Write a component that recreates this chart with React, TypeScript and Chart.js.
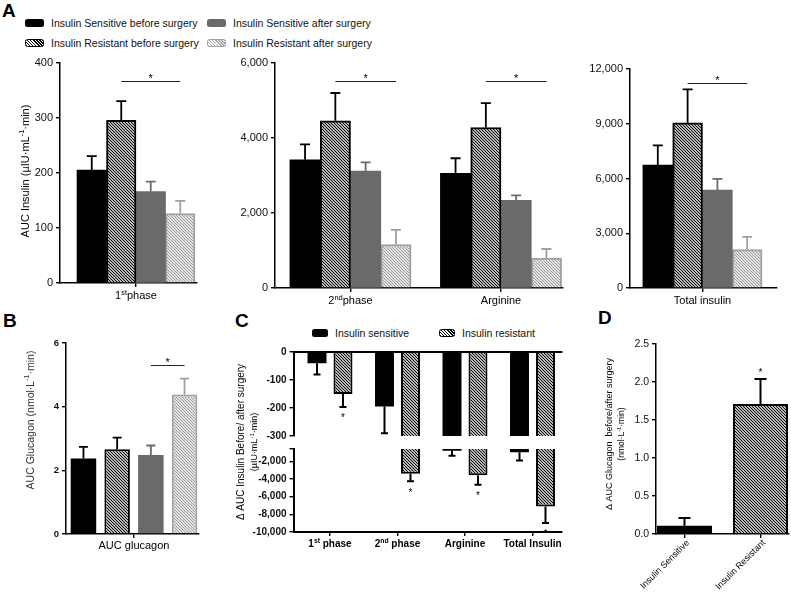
import React, { useEffect, useRef } from 'react';
import { Chart, registerables } from 'chart.js';

Chart.register(...registerables);

const FONT = '"Liberation Sans", Arial, Helvetica, sans-serif';
Chart.defaults.font.family = FONT;
Chart.defaults.color = '#000';

// ---------------- data ----------------
const GROUP_NAMES = [
  'Insulin Sensitive before surgery',
  'Insulin Resistant before surgery',
  'Insulin Sensitive after surgery',
  'Insulin Resistant after surgery',
];

// Panel A: AUC insulin
const INSULIN_PHASES = ['1^{st}phase', '2^{nd}phase', 'Arginine', 'Total insulin'];
const IS_BEFORE = [205, 3420, 3060, 6730];
const IR_BEFORE = [295, 4460, 4280, 9050];
const IS_AFTER = [166, 3120, 2340, 5360];
const IR_AFTER = [126, 1160, 800, 2100];
const IS_BEFORE_SEM = [25, 410, 400, 1080];
const IR_BEFORE_SEM = [35, 740, 650, 1830];
const IS_AFTER_SEM = [18, 230, 130, 620];
const IR_AFTER_SEM = [23, 390, 240, 700];
const INSULIN_SIG_Y = [367, 5520, 5520, 11230];
const A1_Y_TICKS = [0, 100, 200, 300, 400];
const A2_Y_TICKS = [0, 2000, 4000, 6000];
const A3_Y_TICKS = [0, 3000, 6000, 9000, 12000];

// Panel B: AUC glucagon (one value per group)
const GLUCAGON_LABEL = ['AUC glucagon'];
const GLUCAGON_MEAN = [2.37, 2.66, 2.48, 4.38];
const GLUCAGON_SEM = [0.37, 0.37, 0.3, 0.5];
const GLUCAGON_SIG_Y = 5.3;
const B_Y_TICKS = [0, 2, 4, 6];

// Panel C: delta AUC insulin (broken axis)
const DELTA_GROUPS = ['Insulin sensitive', 'Insulin resistant'];
const DELTA_LABELS = ['1^{st} phase', '2^{nd} phase', 'Arginine', 'Total Insulin'];
const DELTA_INS_IS = [-40, -195, -800, -980];
const DELTA_INS_IR = [-150, -3400, -3580, -7100];
const DELTA_INS_IS_SEM = [40, 95, 560, 910];
const DELTA_INS_IR_SEM = [46, 860, 1060, 1880];
const C_TOP_TICKS = [-300, -200, -100, 0];
const C_BOTTOM_TICKS = [-10000, -8000, -6000, -4000, -2000, -600];

// Panel D: delta AUC glucagon
const DGLUC_LABELS = ['Insulin Sensitive', 'Insulin Resistant'];
const DGLUC_MEAN = [0.11, 1.71];
const DGLUC_SEM = [0.1, 0.33];
const D_Y_TICKS = [0, 0.5, 1, 1.5, 2, 2.5];

// ---------------- styling / layout ----------------
const INK = '#000000';
const GREY = '#6a6a6a';
const LIGHT = '#a0a0a0';

const A_CATS = [[0], [1, 2], [3]];
const A_TICKS = [A1_Y_TICKS, A2_Y_TICKS, A3_Y_TICKS];
const A_LAYOUTS = [
  { left: 0, top: 45, width: 210, height: 270, L: 60, T: 62.5, R: 197, B: 283, c0: 136, unit: 100, barW: 29.5 },
  { left: 205, top: 45, width: 365, height: 270, L: 275, T: 63, R: 563, B: 288, c0: 350.5, unit: 150.5, barW: 30.3 },
  { left: 570, top: 45, width: 221, height: 270, L: 630, T: 69, R: 777, B: 288, c0: 702.5, unit: 100, barW: 29.8 },
];
const B_LAYOUT = { left: 0, top: 320, width: 210, height: 274, L: 66, T: 343, R: 199, B: 534, c0: 134, unit: 100 };
const C_TOP_LAYOUT = { left: 205, top: 335, width: 365, height: 110, L: 293.5, T: 352, R: 562, B: 436, c0: 330, unit: 67.5 };
const C_BOT_LAYOUT = { left: 205, top: 305, width: 365, height: 289, L: 293.5, T: 449, R: 562, B: 532, c0: 330, unit: 67.5 };
const D_LAYOUT = { left: 570, top: 320, width: 221, height: 274, L: 656, T: 344, R: 789, B: 534, c0: 684.5, unit: 76 };

function makeHatch(color: string) {
  const c = document.createElement('canvas');
  c.width = 3;
  c.height = 3;
  const g = c.getContext('2d')!;
  g.fillStyle = '#fff';
  g.fillRect(0, 0, 3, 3);
  g.strokeStyle = color;
  g.lineWidth = 1.1;
  g.beginPath();
  g.moveTo(-1, -1); g.lineTo(4, 4);
  g.moveTo(-1, 2); g.lineTo(1, 4);
  g.moveTo(2, -1); g.lineTo(4, 1);
  g.stroke();
  return g.createPattern(c, 'repeat')!;
}

function parseRich(s: string) {
  const segs: { t: string; sup: boolean }[] = [];
  const re = /\^\{([^}]*)\}/g;
  let last = 0;
  let m: RegExpExecArray | null;
  while ((m = re.exec(s))) {
    if (m.index > last) segs.push({ t: s.slice(last, m.index), sup: false });
    segs.push({ t: m[1], sup: true });
    last = m.index + m[0].length;
  }
  if (last < s.length) segs.push({ t: s.slice(last), sup: false });
  return segs;
}

function drawRich(ctx: CanvasRenderingContext2D, text: string, x: number, y: number, o: any) {
  const segs = parseRich(text);
  const w8 = o.weight || 'normal';
  const main = `${w8} ${o.size}px ${FONT}`;
  const sup = `${w8} ${(o.size * 0.68).toFixed(2)}px ${FONT}`;
  ctx.save();
  let total = 0;
  for (const s of segs) {
    ctx.font = s.sup ? sup : main;
    total += ctx.measureText(s.t).width;
  }
  ctx.translate(x, y);
  if (o.rot) ctx.rotate(o.rot);
  let cx = o.align === 'left' ? 0 : o.align === 'right' ? -total : -total / 2;
  const by = o.baseline === 'alphabetic' ? 0 : o.size * 0.35;
  ctx.fillStyle = o.color || '#000';
  ctx.textAlign = 'left';
  ctx.textBaseline = 'alphabetic';
  for (const s of segs) {
    ctx.font = s.sup ? sup : main;
    ctx.fillText(s.t, cx, by - (s.sup ? o.size * 0.4 : 0));
    cx += ctx.measureText(s.t).width;
  }
  ctx.restore();
}

function errorBars(chart: any, di: number, sems: number[], dir: number, color: string, cap: number, lw: number, clip: boolean) {
  const ctx = chart.ctx;
  const ys = chart.scales.y;
  const meta = chart.getDatasetMeta(di);
  const data = chart.data.datasets[di].data;
  ctx.save();
  if (clip) {
    const a = chart.chartArea;
    ctx.beginPath();
    ctx.rect(a.left - 30, a.top, a.right - a.left + 60, a.bottom - a.top);
    ctx.clip();
  }
  ctx.strokeStyle = color;
  ctx.lineWidth = lw;
  meta.data.forEach((el: any, i: number) => {
    const v = data[i].y;
    const y0 = ys.getPixelForValue(v);
    const y1 = ys.getPixelForValue(v + dir * sems[i]);
    ctx.beginPath();
    ctx.moveTo(el.x, y0);
    ctx.lineTo(el.x, y1);
    ctx.moveTo(el.x - cap, y1);
    ctx.lineTo(el.x + cap, y1);
    ctx.stroke();
  });
  ctx.restore();
}

function sigBracket(chart: any, da: number, db: number, i: number, yv: number) {
  const ctx = chart.ctx;
  const y = Math.round(chart.scales.y.getPixelForValue(yv)) + 0.5;
  const xa = chart.getDatasetMeta(da).data[i].x;
  const xb = chart.getDatasetMeta(db).data[i].x;
  ctx.save();
  ctx.strokeStyle = '#222';
  ctx.lineWidth = 1;
  ctx.beginPath();
  ctx.moveTo(xa, y);
  ctx.lineTo(xb, y);
  ctx.stroke();
  ctx.restore();
  drawRich(ctx, '*', (xa + xb) / 2, y, { size: 11, baseline: 'alphabetic' });
}

function xLabels(chart: any, labels: string[], cy: number, size: number, weight = 'normal') {
  const xs = chart.scales.x;
  labels.forEach((l, i) => drawRich(chart.ctx, l, xs.getPixelForValue(i), cy, { size, weight }));
}

function buildChart(canvas: HTMLCanvasElement, lay: any, cfg: any) {
  const xTop = cfg.xTop === true;
  const padding = {
    left: 0,
    right: lay.left + lay.width - lay.R,
    top: lay.T - lay.top,
    bottom: xTop ? lay.top + lay.height - lay.B : 0,
  };
  const xH = xTop ? 0 : lay.top + lay.height - lay.B;
  const yW = lay.L - lay.left;
  return new Chart(canvas, {
    type: 'bar',
    data: { datasets: cfg.datasets },
    options: {
      responsive: false,
      animation: false,
      events: [],
      layout: { padding },
      plugins: { legend: { display: false }, tooltip: { enabled: false }, title: { display: false } },
      scales: {
        x: {
          type: 'linear',
          position: xTop ? 'top' : 'bottom',
          offset: false,
          min: (lay.L - lay.c0) / lay.unit,
          max: (lay.R - lay.c0) / lay.unit,
          afterBuildTicks: (s: any) => { s.ticks = cfg.xTicks.map((v: number) => ({ value: v })); },
          afterFit: (s: any) => { s.height = xH; },
          ticks: { display: false },
          grid: { display: !xTop, offset: false, drawOnChartArea: false, drawTicks: true, tickLength: 4, color: INK, lineWidth: 1.4 },
          border: { display: true, color: INK, width: cfg.axisW || 1.5 },
        },
        y: {
          type: 'linear',
          min: cfg.yMin,
          max: cfg.yMax,
          afterBuildTicks: (s: any) => { s.ticks = cfg.yTicks.map((v: number) => ({ value: v })); },
          afterFit: (s: any) => { s.width = yW; },
          ticks: {
            font: { size: cfg.yFontSize, weight: cfg.yFontWeight || 'normal', lineHeight: 1 },
            color: '#111',
            padding: 3,
            callback: (v: any) => cfg.yFmt(Number(v)),
          },
          grid: { display: true, drawOnChartArea: false, drawTicks: true, tickLength: 4, color: INK, lineWidth: 1.4 },
          border: { display: true, color: INK, width: cfg.axisW || 1.5 },
        },
      },
    } as any,
    plugins: [{ id: 'deco', afterDatasetsDraw: (chart: any) => cfg.deco(chart) }],
  });
}

const fmtThousands = (v: number) => v.toLocaleString('en-US');

function Swatch({ kind, x, y, w, h }: any) {
  const base: any = { position: 'absolute', left: x, top: y - h / 2, width: w, height: h, borderRadius: 2.5, boxSizing: 'border-box' };
  if (kind === 0) base.background = INK;
  if (kind === 2) base.background = GREY;
  if (kind === 1) {
    base.background = 'repeating-linear-gradient(45deg, #000 0px, #000 1.1px, #fff 1.1px, #fff 2.2px)';
    base.border = '1.5px solid #000';
  }
  if (kind === 3) {
    base.background = 'repeating-linear-gradient(45deg, #a8a8a8 0px, #a8a8a8 1.1px, #fff 1.1px, #fff 2.2px)';
    base.border = '1.5px solid #a0a0a0';
  }
  return <div style={base} />;
}

function LegendText({ x, y, text, size }: any) {
  return (
    <div style={{ position: 'absolute', left: x, top: y - 8, height: 16, lineHeight: '16px', fontSize: size, whiteSpace: 'nowrap', color: '#111' }}>
      {text}
    </div>
  );
}

function Letter({ x, y, t }: any) {
  return (
    <div style={{ position: 'absolute', left: x, top: y, fontSize: 19, lineHeight: '19px', fontWeight: 'bold', color: '#000' }}>{t}</div>
  );
}

export default function App() {
  const a1 = useRef<HTMLCanvasElement>(null);
  const a2 = useRef<HTMLCanvasElement>(null);
  const a3 = useRef<HTMLCanvasElement>(null);
  const bRef = useRef<HTMLCanvasElement>(null);
  const cTop = useRef<HTMLCanvasElement>(null);
  const cBot = useRef<HTMLCanvasElement>(null);
  const dRef = useRef<HTMLCanvasElement>(null);

  useEffect(() => {
    const charts: Chart[] = [];
    const darkHatch = makeHatch('#000');
    const lightHatch = makeHatch('#9a9a9a');
    const STY = [
      { bg: INK, border: INK, bw: 0, err: INK },
      { bg: darkHatch, border: INK, bw: 2, err: INK },
      { bg: GREY, border: GREY, bw: 0, err: GREY },
      { bg: lightHatch, border: LIGHT, bw: 2, err: LIGHT },
    ];
    const MEANS = [IS_BEFORE, IR_BEFORE, IS_AFTER, IR_AFTER];
    const SEMS = [IS_BEFORE_SEM, IR_BEFORE_SEM, IS_AFTER_SEM, IR_AFTER_SEM];

    // ---------- Panel A ----------
    [a1, a2, a3].forEach((ref, p) => {
      const lay = A_LAYOUTS[p];
      const cats = A_CATS[p];
      const ticks = A_TICKS[p];
      const datasets = GROUP_NAMES.map((name, g) => ({
        label: name,
        data: cats.map((ci, k) => ({ x: k, y: MEANS[g][ci] })),
        backgroundColor: STY[g].bg,
        borderColor: STY[g].border,
        borderWidth: STY[g].bw,
        borderSkipped: 'start',
        barThickness: lay.barW,
      }));
      charts.push(
        buildChart(ref.current!, lay, {
          datasets,
          xTicks: cats.map((_, k) => k),
          yMin: ticks[0],
          yMax: ticks[ticks.length - 1],
          yTicks: ticks,
          yFontSize: 11,
          yFmt: fmtThousands,
          deco: (chart: any) => {
            GROUP_NAMES.forEach((_, g) => errorBars(chart, g, cats.map((ci) => SEMS[g][ci]), 1, STY[g].err, 5, 1.8, false));
            cats.forEach((ci, k) => sigBracket(chart, 1, 3, k, INSULIN_SIG_Y[ci]));
            xLabels(chart, cats.map((ci) => INSULIN_PHASES[ci]), lay.B - lay.top + 12.5, 11);
            if (p === 0) {
              drawRich(chart.ctx, 'AUC Insulin (µIU·mL^{-1}·min)', 25 - lay.left, 171 - lay.top, { size: 11, rot: -Math.PI / 2 });
            }
          },
        })
      );
    });

    // ---------- Panel B ----------
    {
      const lay = B_LAYOUT;
      const plotW = lay.R - lay.L;
      const datasets = GROUP_NAMES.map((name, g) => ({
        label: name,
        data: GLUCAGON_LABEL.map((_, k) => ({ x: k, y: GLUCAGON_MEAN[g] })),
        backgroundColor: STY[g].bg,
        borderColor: STY[g].border,
        borderWidth: STY[g].bw,
        borderSkipped: 'start',
        categoryPercentage: 134.8 / plotW,
        barPercentage: 0.757,
      }));
      charts.push(
        buildChart(bRef.current!, lay, {
          datasets,
          xTicks: [0],
          yMin: 0,
          yMax: 6,
          yTicks: B_Y_TICKS,
          yFontSize: 9.5,
          yFontWeight: 'bold',
          yFmt: (v: number) => String(v),
          deco: (chart: any) => {
            GROUP_NAMES.forEach((_, g) => errorBars(chart, g, [GLUCAGON_SEM[g]], 1, STY[g].err, 4.5, 1.8, false));
            sigBracket(chart, 2, 3, 0, GLUCAGON_SIG_Y);
            xLabels(chart, GLUCAGON_LABEL, 545 - lay.top, 11);
            drawRich(chart.ctx, 'AUC Glucagon (nmol·L^{-1}·min)', 30 - lay.left, 420 - lay.top, { size: 10.5, rot: -Math.PI / 2, color: '#333' });
          },
        })
      );
    }

    // ---------- Panel C (broken axis: two stacked charts) ----------
    const cDatasets = () => [
      {
        label: DELTA_GROUPS[0],
        data: DELTA_INS_IS.map((v, k) => ({ x: k, y: v })),
        backgroundColor: INK,
        borderColor: INK,
        borderWidth: 0,
        borderSkipped: 'start',
        categoryPercentage: 0.77,
        barPercentage: 0.73,
        clip: 0,
      },
      {
        label: DELTA_GROUPS[1],
        data: DELTA_INS_IR.map((v, k) => ({ x: k, y: v })),
        backgroundColor: darkHatch,
        borderColor: INK,
        borderWidth: 2,
        borderSkipped: 'start',
        categoryPercentage: 0.77,
        barPercentage: 0.73,
        clip: 0,
      },
    ];
    const cSems = [DELTA_INS_IS_SEM, DELTA_INS_IR_SEM];
    const cStars = (chart: any, lo: number, hi: number) => {
      const ys = chart.scales.y;
      const meta = chart.getDatasetMeta(1);
      DELTA_INS_IR.forEach((v, k) => {
        const end = v - DELTA_INS_IR_SEM[k];
        if (end < lo || end > hi) return;
        drawRich(chart.ctx, '*', meta.data[k].x, ys.getPixelForValue(end) + 14.5, { size: 10, baseline: 'alphabetic' });
      });
    };

    charts.push(
      buildChart(cBot.current!, C_BOT_LAYOUT, {
        datasets: cDatasets(),
        xTicks: DELTA_LABELS.map((_, k) => k),
        yMin: C_BOTTOM_TICKS[0],
        yMax: C_BOTTOM_TICKS[C_BOTTOM_TICKS.length - 1],
        yTicks: C_BOTTOM_TICKS,
        yFontSize: 10,
        yFontWeight: 'bold',
        axisW: 2,
        yFmt: (v: number) => (v === C_BOTTOM_TICKS[C_BOTTOM_TICKS.length - 1] ? '' : fmtThousands(v)),
        deco: (chart: any) => {
          const lay = C_BOT_LAYOUT;
          [0, 1].forEach((g) => errorBars(chart, g, cSems[g], -1, INK, 3.5, 2, true));
          cStars(chart, C_BOTTOM_TICKS[0] - 1000, C_BOTTOM_TICKS[C_BOTTOM_TICKS.length - 1]);
          xLabels(chart, DELTA_LABELS, 543 - lay.top, 10, 'bold');
          drawRich(chart.ctx, 'Δ AUC Insulin Before/ after surgery', 240 - lay.left, 442 - lay.top, { size: 10, rot: -Math.PI / 2 });
          drawRich(chart.ctx, '(µIU·mL^{-1}·min)', 254 - lay.left, 442 - lay.top, { size: 9, rot: -Math.PI / 2 });
        },
      })
    );
    charts.push(
      buildChart(cTop.current!, C_TOP_LAYOUT, {
        datasets: cDatasets(),
        xTop: true,
        xTicks: DELTA_LABELS.map((_, k) => k),
        yMin: C_TOP_TICKS[0],
        yMax: C_TOP_TICKS[C_TOP_TICKS.length - 1],
        yTicks: C_TOP_TICKS,
        yFontSize: 10,
        yFontWeight: 'bold',
        axisW: 2,
        yFmt: (v: number) => String(v),
        deco: (chart: any) => {
          [0, 1].forEach((g) => errorBars(chart, g, cSems[g], -1, INK, 3.5, 2, true));
          cStars(chart, C_TOP_TICKS[0], 0);
        },
      })
    );

    // ---------- Panel D ----------
    {
      const lay = D_LAYOUT;
      charts.push(
        buildChart(dRef.current!, lay, {
          datasets: [
            {
              label: 'Δ AUC Glucagon',
              data: DGLUC_MEAN.map((v, k) => ({ x: k, y: v })),
              backgroundColor: [INK, darkHatch],
              borderColor: [INK, INK],
              borderWidth: [0, 2],
              borderSkipped: 'start',
              categoryPercentage: 0.724,
              barPercentage: 1,
            },
          ],
          xTicks: DGLUC_LABELS.map((_, k) => k),
          yMin: 0,
          yMax: 2.5,
          yTicks: D_Y_TICKS,
          yFontSize: 10.5,
          yFmt: (v: number) => v.toFixed(1),
          deco: (chart: any) => {
            const ctx = chart.ctx;
            errorBars(chart, 0, DGLUC_SEM, 1, INK, 6, 2, false);
            const ys = chart.scales.y;
            const meta = chart.getDatasetMeta(0);
            drawRich(ctx, '*', meta.data[1].x, ys.getPixelForValue(DGLUC_MEAN[1] + DGLUC_SEM[1]) - 3, { size: 10, baseline: 'alphabetic' });
            const xs = chart.scales.x;
            DGLUC_LABELS.forEach((l, k) => {
              drawRich(ctx, l, xs.getPixelForValue(k) + 3, lay.B - lay.top + 7, { size: 9, align: 'right', rot: -Math.PI / 4 });
            });
            drawRich(ctx, 'Δ AUC Glucagon  before/after surgery', 609 - lay.left, 434 - lay.top, { size: 9, rot: -Math.PI / 2 });
            drawRich(ctx, '(nmol·L^{-1}·min)', 621 - lay.left, 434 - lay.top, { size: 8.5, rot: -Math.PI / 2 });
          },
        })
      );
    }

    return () => charts.forEach((c) => c.destroy());
  }, []);

  const cv = (ref: any, lay: any) => (
    <canvas ref={ref} width={lay.width} height={lay.height} style={{ position: 'absolute', left: lay.left, top: lay.top, width: lay.width, height: lay.height }} />
  );

  const aLegendPos = [
    { x: 25, y: 23 },
    { x: 25, y: 43 },
    { x: 207, y: 23 },
    { x: 207, y: 43 },
  ];

  return (
    <div style={{ position: 'absolute', left: 0, top: 0, width: 791, height: 594, background: '#fff', fontFamily: FONT, overflow: 'hidden' }}>
      {GROUP_NAMES.map((name, g) => (
        <React.Fragment key={name}>
          <Swatch kind={g} x={aLegendPos[g].x} y={aLegendPos[g].y} w={19} h={8} />
          <LegendText x={aLegendPos[g].x + 26} y={aLegendPos[g].y} text={name} size={10.5} />
        </React.Fragment>
      ))}
      {DELTA_GROUPS.map((name, g) => (
        <React.Fragment key={name}>
          <Swatch kind={g} x={312 + g * 127} y={333} w={16} h={8} />
          <LegendText x={335 + g * 127} y={333} text={name} size={10.5} />
        </React.Fragment>
      ))}
      <Letter x={2} y={1} t="A" />
      <Letter x={3} y={311} t="B" />
      <Letter x={235} y={311} t="C" />
      <Letter x={598} y={308} t="D" />
      {cv(a1, A_LAYOUTS[0])}
      {cv(a2, A_LAYOUTS[1])}
      {cv(a3, A_LAYOUTS[2])}
      {cv(bRef, B_LAYOUT)}
      {cv(cBot, C_BOT_LAYOUT)}
      {cv(cTop, C_TOP_LAYOUT)}
      {cv(dRef, D_LAYOUT)}
    </div>
  );
}
